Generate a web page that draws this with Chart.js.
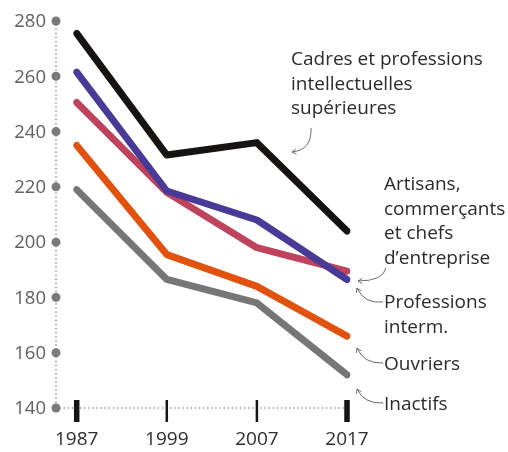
<!DOCTYPE html>
<html>
<head>
<meta charset="utf-8">
<script src="https://cdn.jsdelivr.net/npm/chart.js@4.4.1/dist/chart.umd.min.js"></script>
<style>
  html, body { margin: 0; padding: 0; background: #fff; }
  canvas { display: block; }
</style>
</head>
<body>
<canvas id="chart" width="508" height="452"></canvas>
<script>
// Survey years (category axis) and value ticks
const years = ['1987', '1999', '2007', '2017'];
const yTicks = [140, 160, 180, 200, 220, 240, 260, 280];

// One series per social category
const cadres = [275.5, 231.5, 236, 204];
const professionsInterm = [261.5, 218.5, 208, 186.5];
const artisans = [250.5, 218, 198, 189.5];
const ouvriers = [235, 195.5, 184, 166];
const inactifs = [219, 186.5, 178, 152];

const FONT = '"Open Sans", Lato, sans-serif';

// Dotted value axis with round markers, plus year ticks along the base
const axisPlugin = {
  id: 'axisDecor',
  beforeDatasetsDraw(chart) {
    const { ctx, scales: { x, y } } = chart;
    const axisX = 56;
    const baseY = y.getPixelForValue(yTicks[0]);
    const topY = y.getPixelForValue(yTicks[yTicks.length - 1]);
    const lastX = x.getPixelForValue(years.length - 1);
    ctx.save();
    // dotted lines
    ctx.strokeStyle = '#8a8a8a';
    ctx.lineWidth = 1.6;
    ctx.lineCap = 'round';
    ctx.setLineDash([0.1, 4]);
    ctx.beginPath();
    ctx.moveTo(axisX, topY);
    ctx.lineTo(axisX, baseY);
    ctx.moveTo(axisX, baseY);
    ctx.lineTo(lastX, baseY);
    ctx.stroke();
    ctx.setLineDash([]);
    // tick markers and labels
    ctx.font = '18.5px ' + FONT;
    ctx.textAlign = 'right';
    ctx.textBaseline = 'middle';
    yTicks.forEach(v => {
      const py = y.getPixelForValue(v);
      ctx.fillStyle = '#7a7a7a';
      ctx.beginPath();
      ctx.arc(axisX, py, 4.5, 0, Math.PI * 2);
      ctx.fill();
      ctx.fillStyle = '#606060';
      ctx.fillText(String(v), 46, py + 1);
    });
    // year ticks
    ctx.fillStyle = '#151515';
    years.forEach((yr, i) => {
      const px = x.getPixelForValue(i);
      const w = (i === 0 || i === years.length - 1) ? 5.5 : 2.5;
      ctx.fillRect(px - w / 2, baseY - 8, w, 22);
    });
    ctx.font = '19px ' + FONT;
    ctx.fillStyle = '#2e2e2e';
    ctx.textAlign = 'center';
    years.forEach((yr, i) => {
      ctx.fillText(yr, x.getPixelForValue(i), 440);
    });
    ctx.restore();
  }
};

function arrow(ctx, sx, sy, cx, cy, tx, ty) {
  ctx.beginPath();
  ctx.moveTo(sx, sy);
  ctx.quadraticCurveTo(cx, cy, tx, ty);
  ctx.stroke();
  const ang = Math.atan2(ty - cy, tx - cx);
  const len = 5;
  ctx.beginPath();
  ctx.moveTo(tx + len * Math.cos(ang + Math.PI - 0.55), ty + len * Math.sin(ang + Math.PI - 0.55));
  ctx.lineTo(tx, ty);
  ctx.lineTo(tx + len * Math.cos(ang + Math.PI + 0.55), ty + len * Math.sin(ang + Math.PI + 0.55));
  ctx.stroke();
}

// Category labels with their pointer arrows
const labelPlugin = {
  id: 'seriesLabels',
  afterDraw(chart) {
    const { ctx } = chart;
    ctx.save();
    ctx.fillStyle = '#2b2b2b';
    ctx.font = '19px ' + FONT;
    ctx.textAlign = 'left';
    ctx.textBaseline = 'alphabetic';
    const blocks = [
      { x: 291, y: 65, lines: ['Cadres et professions', 'intellectuelles', 'supérieures'] },
      { x: 384, y: 190, lines: ['Artisans,', 'commerçants', 'et chefs', 'd\u2019entreprise'] },
      { x: 384, y: 308, lines: ['Professions', 'interm.'] },
      { x: 384, y: 370, lines: ['Ouvriers'] },
      { x: 384, y: 410, lines: ['Inactifs'] }
    ];
    blocks.forEach(b => {
      b.lines.forEach((t, i) => ctx.fillText(t, b.x, b.y + i * 24.5));
    });
    ctx.strokeStyle = '#6a6a6a';
    ctx.lineWidth = 1;
    arrow(ctx, 311, 128, 312, 150, 292, 152);
    arrow(ctx, 386, 268, 383, 281, 358, 281);
    arrow(ctx, 383, 302, 364, 304, 357, 288);
    arrow(ctx, 383, 363, 364, 364, 357, 348);
    arrow(ctx, 383, 403, 364, 404, 357, 389);
    ctx.restore();
  }
};

const lineStyle = (data, color) => ({
  data,
  borderColor: color,
  backgroundColor: color,
  borderWidth: 7,
  borderCapStyle: 'round',
  borderJoinStyle: 'round',
  pointRadius: 0,
  tension: 0,
  fill: false
});

new Chart(document.getElementById('chart'), {
  type: 'line',
  data: {
    labels: years,
    datasets: [
      lineStyle(cadres, '#161412'),
      lineStyle(professionsInterm, '#4a3a98'),
      lineStyle(artisans, '#c0435d'),
      lineStyle(ouvriers, '#e2520f'),
      lineStyle(inactifs, '#767676')
    ]
  },
  options: {
    responsive: false,
    animation: false,
    devicePixelRatio: 1,
    layout: { padding: { left: 76.7, right: 161, top: 21, bottom: 44 } },
    plugins: { legend: { display: false }, tooltip: { enabled: false } },
    scales: {
      x: { display: false, offset: false },
      y: { display: false, min: 140, max: 280 }
    }
  },
  plugins: [axisPlugin, labelPlugin]
});
</script>
</body>
</html>
